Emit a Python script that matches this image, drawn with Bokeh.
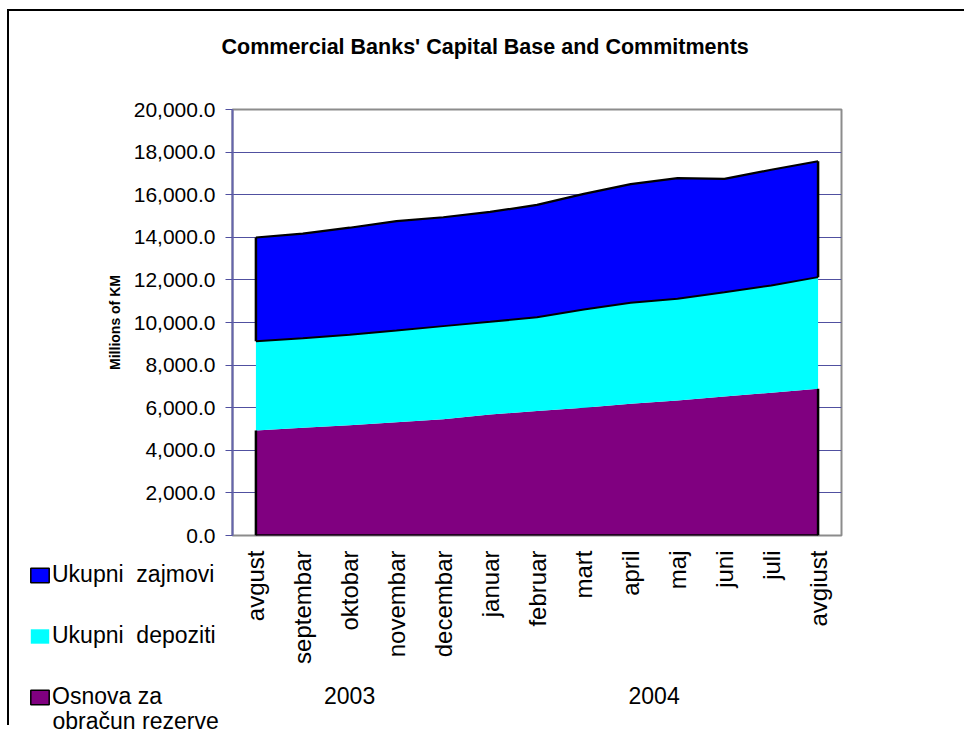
import numpy as np
from bokeh.plotting import figure
from bokeh.models import (Range1d, FixedTicker, LinearAxis, NumeralTickFormatter,
                          Legend, LegendItem, ColumnDataSource, Title, Label)
from bokeh.embed import file_html
from bokeh.resources import INLINE

# ---- data (millions of KM) ----
months = ["avgust", "septembar", "oktobar", "novembar", "decembar", "januar",
          "februar", "mart", "april", "maj", "juni", "juli", "avgiust"]
month_years = ["2003"] * 5 + ["2004"] * 8
base = [4930, 5060, 5180, 5320, 5460, 5680, 5840, 6000, 6180, 6340, 6530, 6700, 6890]
deposits = [4190, 4200, 4240, 4300, 4370, 4350, 4410, 4610, 4750, 4770, 4890, 5040, 5240]
loans = [4870, 4910, 5030, 5140, 5110, 5160, 5270, 5430, 5570, 5670, 5320, 5430, 5440]
series_names = ["Ukupni  zajmovi", "Ukupni  depoziti", "Osnova za", "obračun rezerve"]
y_ticks = list(range(0, 20001, 2000))

FONT = "Liberation Sans"
BLUE, CYAN, PURPLE = "#0000FF", "#00FFFF", "#800080"
GRID = "#5050A0"

idx = np.arange(len(months))
mid = np.array(base) + np.array(deposits)
top = mid + np.array(loans)

src = ColumnDataSource(dict(x=idx, base=base, deposits=deposits, loans=loans,
                            mid=mid, top=top, zero=np.zeros(len(idx))))

p = figure(width=957, height=716, output_backend="svg", toolbar_location=None,
           x_range=Range1d(-0.5, len(months) - 0.5), y_range=Range1d(0, 20000),
           min_border_left=223, min_border_right=125, min_border_top=98,
           min_border_bottom=192)
p.styles = {"margin-left": "7px", "margin-top": "9px",
            "border-left": "2px solid black", "border-top": "2px solid black"}

# title (with a blank spacer between it and the plot area)
p.title.text = "Commercial Banks' Capital Base and Commitments"
p.title.text_font = FONT
p.title.text_font_size = "21.5px"
p.title.text_font_style = "bold"
p.title.text_color = "black"
p.title.align = "left"
p.title.offset = -11
p.title.standoff = 0
p.add_layout(Title(text=" ", text_font_size="10px", standoff=38), "above")

p.outline_line_color = "#8C8C8C"
p.outline_line_width = 2
p.background_fill_color = "white"

# stacked areas
rs = p.varea_stack(["base", "deposits", "loans"], x="x", color=[PURPLE, CYAN, BLUE], source=src)

# outlines
p.line("x", "top", source=src, line_color="black", line_width=2.2)
p.line("x", "mid", source=src, line_color="black", line_width=2)
p.line("x", "zero", source=src, line_color="black", line_width=2.5)
n = len(idx) - 1
p.segment(x0=[idx[0], idx[0], idx[n], idx[n]], y0=[0, mid[0], 0, mid[n]],
          x1=[idx[0], idx[0], idx[n], idx[n]], y1=[base[0], top[0], base[n], top[n]],
          line_color="black", line_width=2.5)

# y axis
yax = p.yaxis[0]
yax.ticker = FixedTicker(ticks=y_ticks)
yax.formatter = NumeralTickFormatter(format="0,0.0")
yax.axis_label = "Millions of KM"
yax.axis_label_text_font = FONT
yax.axis_label_text_font_size = "14px"
yax.axis_label_text_font_style = "bold"
yax.axis_label_text_color = "black"
yax.axis_label_standoff = 8
yax.major_label_text_font = FONT
yax.major_label_text_font_size = "21px"
yax.major_label_text_color = "black"
yax.major_label_standoff = 10
yax.axis_line_color = "#6565AD"
yax.axis_line_width = 2
yax.major_tick_line_color = GRID
yax.major_tick_in = 0
yax.major_tick_out = 7
yax.minor_tick_line_color = None

p.ygrid.ticker = FixedTicker(ticks=y_ticks)
p.ygrid.grid_line_color = GRID
p.ygrid.grid_line_width = 1
p.xgrid.grid_line_color = None

# x axis (months)
xax = p.xaxis[0]
xax.ticker = FixedTicker(ticks=list(idx))
xax.major_label_overrides = {int(i): m for i, m in zip(idx, months)}
xax.major_label_orientation = np.pi / 2
xax.major_label_text_font = FONT
xax.major_label_text_font_size = "24px"
xax.major_label_text_color = "black"
xax.major_label_standoff = 15
xax.axis_line_color = None
xax.major_tick_line_color = None
xax.major_tick_out = 0
xax.major_tick_in = 0
xax.minor_tick_line_color = None

# x axis (years)
years = sorted(set(month_years))
year_pos = [float(np.mean([i for i, y in zip(idx, month_years) if y == yr])) for yr in years]
yrax = LinearAxis(ticker=FixedTicker(ticks=year_pos),
                  major_label_overrides={pos: yr for pos, yr in zip(year_pos, years)},
                  axis_line_color=None, major_tick_line_color=None,
                  major_tick_in=0, major_tick_out=0, minor_tick_line_color=None,
                  major_label_text_font=FONT, major_label_text_font_size="23px",
                  major_label_text_color="black", major_label_standoff=20)
p.add_layout(yrax, "below")

# ---- legend: a small overlay figure placed left of the x-axis labels ----
# (its proxy areas are built from the same data but lie outside its visible range)
lf = figure(width=215, height=168, output_backend="svg", toolbar_location=None,
            x_axis_location=None, y_axis_location=None,
            min_border_left=0, min_border_right=0, min_border_top=0, min_border_bottom=0,
            x_range=Range1d(100, 101), y_range=Range1d(0, 1))
lf.grid.visible = False
lf.outline_line_color = None
lf.background_fill_color = None
lf.border_fill_color = None
lf.styles = {"position": "absolute", "left": "28px", "top": "561px"}

poly_x = list(idx) + list(idx[::-1])
proxy_blue = lf.patch(x=poly_x, y=list(top) + list(mid[::-1]),
                      fill_color=BLUE, line_color="black", line_width=1.5)
proxy_cyan = lf.patch(x=poly_x, y=list(mid) + list(np.array(base)[::-1]),
                      fill_color=CYAN, line_color=None)
proxy_purple = lf.patch(x=poly_x, y=list(base) + [0] * len(idx),
                        fill_color=PURPLE, line_color="black", line_width=1.5)
legend = Legend(items=[LegendItem(label=series_names[0], renderers=[proxy_blue]),
                       LegendItem(label=series_names[1], renderers=[proxy_cyan]),
                       LegendItem(label=series_names[2], renderers=[proxy_purple])],
                location="top_left", orientation="vertical",
                glyph_width=23, glyph_height=18, label_standoff=1, label_height=26,
                spacing=34, padding=0, margin=0, border_line_color=None,
                background_fill_alpha=0, label_text_font=FONT,
                label_text_font_size="23px", label_text_color="black")
lf.add_layout(legend)
# second line of the third legend label
lf.add_layout(Label(x=24, y=9, x_units="screen", y_units="screen", text=series_names[3],
                    text_font=FONT, text_font_size="23px", text_color="black",
                    text_align="left", text_baseline="middle"))

open("out.html", "w").write(file_html([p, lf], INLINE))
